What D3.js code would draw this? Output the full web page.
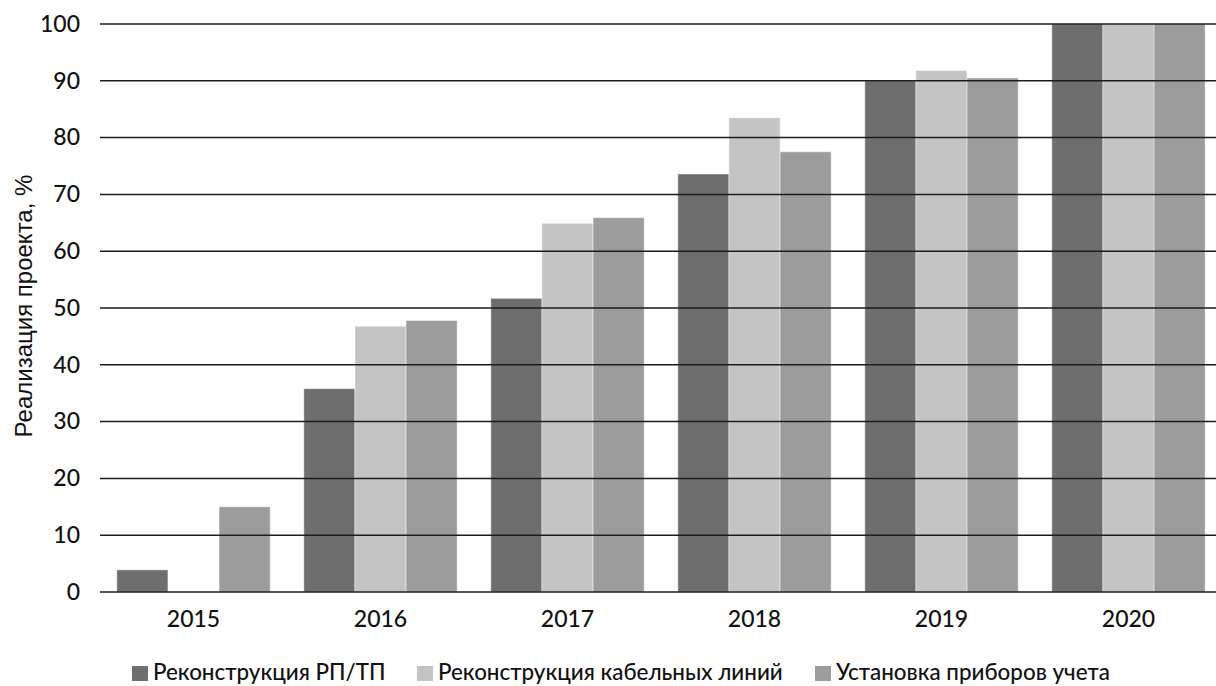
<!DOCTYPE html>
<html lang="ru">
<head>
<meta charset="utf-8">
<script src="https://cdn.jsdelivr.net/npm/d3@7"></script>
<style>
  html, body { margin: 0; padding: 0; background: #fff; }
  svg { display: block; }
</style>
</head>
<body>
<svg id="chart" width="1216" height="686"></svg>
<script>
// Project completion by year, three work streams
const years = ["2015", "2016", "2017", "2018", "2019", "2020"];
const seriesNames = [
  "Реконструкция РП/ТП",
  "Реконструкция кабельных линий",
  "Установка приборов учета"
];
const rpTp = [3.9, 35.8, 51.7, 73.6, 90.0, 100];
const cableLines = [0, 46.8, 64.9, 83.5, 91.8, 100];
const meters = [15.0, 47.8, 65.9, 77.5, 90.5, 100];
const yTicks = [0, 10, 20, 30, 40, 50, 60, 70, 80, 90, 100];
const colors = ["#6e6e6e", "#c4c4c4", "#9c9c9c"];

const seriesValues = [rpTp, cableLines, meters];

const svg = d3.select("#chart");
const margin = { left: 100, top: 24, bottom: 94 };
const plotRight = 1222;
const height = 686;

const x = d3.scaleBand()
  .domain(years)
  .range([margin.left, plotRight])
  .paddingInner(0.18)
  .paddingOuter(0.09);

const xInner = d3.scaleBand()
  .domain(d3.range(seriesNames.length))
  .range([0, x.bandwidth()]);

const y = d3.scaleLinear()
  .domain([0, 100])
  .range([height - margin.bottom, margin.top]);

const tickFont = "Lato, 'Open Sans', sans-serif";

// Bars
const groups = svg.append("g")
  .selectAll("g")
  .data(years)
  .join("g")
  .attr("transform", d => `translate(${x(d)},0)`);

groups.selectAll("rect")
  .data((yr, i) => seriesValues.map((vals, s) => ({ s, v: vals[i] })))
  .join("rect")
  .attr("x", d => xInner(d.s))
  .attr("width", xInner.bandwidth())
  .attr("y", d => y(d.v))
  .attr("height", d => y(0) - y(d.v))
  .attr("fill", d => colors[d.s])
  .attr("stroke", "rgba(255,255,255,0.45)")
  .attr("stroke-width", 1);

// Horizontal gridlines, drawn over the bars
svg.append("g")
  .selectAll("line")
  .data(yTicks)
  .join("line")
  .attr("x1", margin.left)
  .attr("x2", plotRight)
  .attr("y1", d => y(d))
  .attr("y2", d => y(d))
  .attr("stroke", "#1c1c1c")
  .attr("stroke-width", 1.5);

// Y axis tick labels
const yAxis = d3.axisLeft(y).tickValues(yTicks).tickSize(0).tickPadding(20);
const yAxisG = svg.append("g")
  .attr("transform", `translate(${margin.left},0)`)
  .call(yAxis);
yAxisG.select(".domain").remove();
yAxisG.selectAll("text")
  .attr("font-family", tickFont)
  .attr("font-size", 23)
  .attr("font-weight", 500)
  .attr("fill", "#111");

// X axis category labels
const xAxis = d3.axisBottom(x).tickSize(0).tickPadding(19);
const xAxisG = svg.append("g")
  .attr("transform", `translate(0,${y(0)})`)
  .call(xAxis);
xAxisG.select(".domain").remove();
xAxisG.selectAll("text")
  .attr("font-family", tickFont)
  .attr("font-size", 23)
  .attr("font-weight", 500)
  .attr("fill", "#111");

// Y axis title
svg.append("text")
  .attr("transform", `translate(32,${(margin.top + height - margin.bottom) / 2 - 2}) rotate(-90)`)
  .attr("text-anchor", "middle")
  .attr("font-family", "'Liberation Sans', Arial, sans-serif")
  .attr("font-size", 24)
  .attr("fill", "#111")
  .text("Реализация проекта, %");

// Legend: one swatch + label per series, left edges of each entry
const legendOffsets = [0, 285, 683];
const legend = svg.append("g").attr("transform", "translate(132,680)");
seriesNames.forEach((name, i) => {
  const item = legend.append("g").attr("transform", `translate(${legendOffsets[i]},0)`);
  item.append("rect")
    .attr("x", 0).attr("y", -14)
    .attr("width", 16).attr("height", 15)
    .attr("fill", colors[i]);
  item.append("text")
    .attr("x", 21)
    .attr("y", 0)
    .attr("font-family", tickFont)
    .attr("font-size", 22.4)
    .attr("font-weight", 500)
    .attr("fill", "#111")
    .text(name);
});
</script>
</body>
</html>
